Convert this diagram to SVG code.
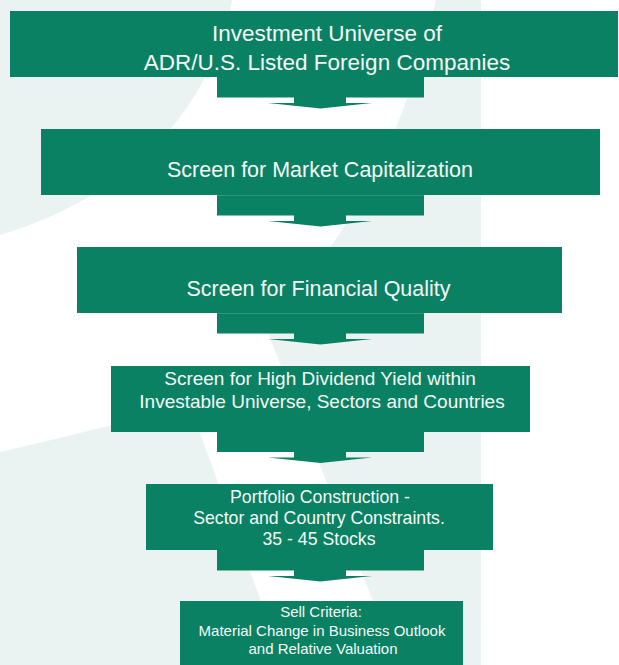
<svg xmlns="http://www.w3.org/2000/svg" width="619" height="665" viewBox="0 0 619 665">
  <style>
    .box { fill: #0B8163; }
    .arrow { fill: #0B8163; }
    .seam { stroke: #3E9C83; stroke-width: 0.8; }
    .t { font-family: "Liberation Sans", Arial, sans-serif; fill: #F4F9F7; text-anchor: middle; }
  </style>
  <rect x="0" y="0" width="619" height="665" fill="#FFFFFF"/>
  <g id="background">
    <rect x="0" y="0" width="481" height="665" fill="#EAF3F1"/>
    <path d="M232,0 C215,90 150,190 0,235 L0,452 C45,442 95,428 191,408 L284,665 L398,665 L265,325 C330,260 400,160 436,0 Z" fill="#FFFFFF"/>
  </g>
  <g id="connectors">
    <path class="arrow" d="M217,77 H424 V97.5 H346 V103 H372 L320.5,108.5 L268,103 H294 V97.5 H217 Z"/>
    <path class="arrow" d="M217,195 H424 V215.5 H346 V221 H372 L320.5,226.5 L268,221 H294 V215.5 H217 Z"/>
    <path class="arrow" d="M217,313 H424 V333.5 H346 V339 H372 L320.5,344.5 L268,339 H294 V333.5 H217 Z"/>
    <path class="arrow" d="M217,432 H424 V452 H346 V457.5 H372 L320.5,463 L268,457.5 H294 V452 H217 Z"/>
    <path class="arrow" d="M217,550 H424 V570.5 H346 V576 H372 L320.5,581.5 L268,576 H294 V570.5 H217 Z"/>
    <line class="seam" x1="217" y1="313.4" x2="424" y2="313.4"/>
    <line class="seam" x1="217" y1="195.4" x2="424" y2="195.4"/>
  </g>
  <g id="node-universe">
    <rect class="box" x="10" y="11" width="608" height="66"/>
    <text class="t" x="327" y="41" font-size="22.5">Investment Universe of</text>
    <text class="t" x="327" y="70" font-size="22.5">ADR/U.S. Listed Foreign Companies</text>
  </g>
  <g id="node-market-cap">
    <rect class="box" x="41" y="129" width="559" height="66"/>
    <text class="t" x="320" y="177" font-size="21.5">Screen for Market Capitalization</text>
  </g>
  <g id="node-financial-quality">
    <rect class="box" x="77" y="247" width="485" height="66"/>
    <text class="t" x="318.5" y="295.5" font-size="21.5">Screen for Financial Quality</text>
  </g>
  <g id="node-dividend-yield">
    <rect class="box" x="111" y="366" width="419" height="66"/>
    <text class="t" x="320" y="385" font-size="19">Screen for High Dividend Yield within</text>
    <text class="t" x="322" y="408" font-size="19">Investable Universe, Sectors and Countries</text>
  </g>
  <g id="node-portfolio">
    <rect class="box" x="146" y="484" width="347" height="66"/>
    <text class="t" x="320" y="502.5" font-size="17.7">Portfolio Construction -</text>
    <text class="t" x="319" y="523.5" font-size="17.7">Sector and Country Constraints.</text>
    <text class="t" x="319" y="544.5" font-size="17.7">35 - 45 Stocks</text>
  </g>
  <g id="node-sell">
    <rect class="box" x="180" y="601" width="283" height="64"/>
    <text class="t" x="321" y="616.5" font-size="15">Sell Criteria:</text>
    <text class="t" x="322" y="636" font-size="15">Material Change in Business Outlook</text>
    <text class="t" x="323" y="654" font-size="15">and Relative Valuation</text>
  </g>
</svg>
